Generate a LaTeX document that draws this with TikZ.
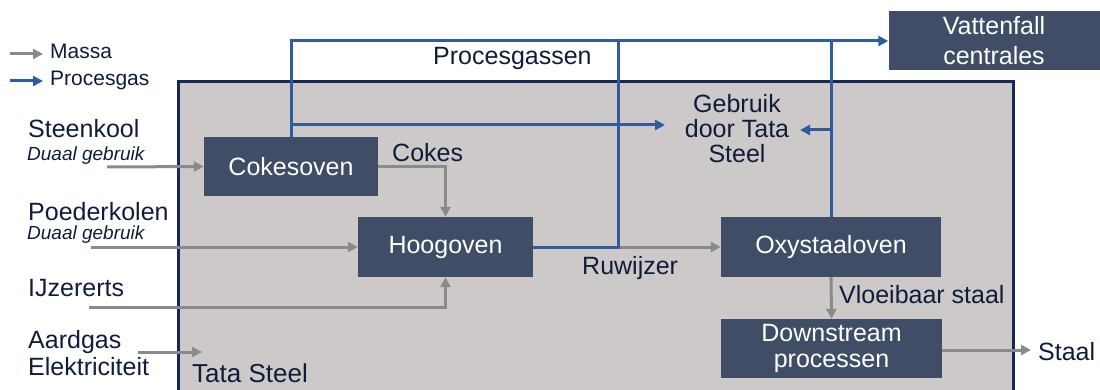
\documentclass[tikz,border=0pt]{standalone}
\usepackage{fontspec}
\setmainfont{Liberation Sans}
\usetikzlibrary{arrows.meta}

\definecolor{boxblue}{HTML}{3F4D66}
\definecolor{tatagray}{HTML}{CDC9C9}
\definecolor{rand}{HTML}{16285A}
\definecolor{gasblue}{HTML}{2E5C9E}
\definecolor{massagray}{HTML}{8A8A8A}
\definecolor{inkt}{HTML}{0F1D3A}

\tikzset{
  box/.style={fill=boxblue, text=white, inner sep=0pt, align=center,
    font=\fontsize{25}{27}\selectfont},
  txt/.style={text=inkt, inner sep=0pt, anchor=base west,
    font=\fontsize{25}{27}\selectfont},
  sub/.style={txt, font=\fontsize{19}{21}\selectfont\itshape},
  massa/.style={massagray, line width=3pt,
    -{Triangle[length=10pt,width=10pt]}},
  gas/.style={gasblue, line width=3pt},
  gaspijl/.style={gas, -{Triangle[length=10pt,width=10pt]}}
}

\begin{document}
\begin{tikzpicture}[x=1pt,y=-1pt]
\useasboundingbox (0,0) rectangle (1100,390);

% Tata Steel terrein
\draw [rand, line width=3pt, fill=tatagray](178,82) rectangle (1013,400);
\node[txt, font=\fontsize{26}{28}\selectfont] (tata) at (192,382) {Tata Steel};

% legenda
\coordinate (lm1) at (10,54);  \coordinate (lm2) at (43,54);
\coordinate (lg1) at (10,81);  \coordinate (lg2) at (43,81);
\draw[massa] (lm1) -- (lm2);
\draw[gaspijl] (lg1) -- (lg2);
\node[txt, font=\fontsize{21}{23}\selectfont] (lmassa) at (50,59) {Massa};
\node[txt, font=\fontsize{21}{23}\selectfont] (lgas) at (50,86) {Procesgas};

% processen
\node[box, minimum width=174pt, minimum height=59pt] (coke) at (291,166.5) {Cokesoven};
\node[box, minimum width=175pt, minimum height=60pt] (hoog) at (445.5,247) {Hoogoven};
\node[box, minimum width=220pt, minimum height=60pt] (oxy) at (831,247) {Oxystaaloven};
\node[box, minimum width=221pt, minimum height=59pt, font=\fontsize{25}{26}\selectfont] (down) at (831.5,348.5) {Downstream\\processen};
\node[box, minimum width=211pt, minimum height=59pt, font=\fontsize{25}{30}\selectfont] (vat) at (994,41) {Vattenfall\\centrales};
\node[text=inkt, inner sep=0pt, align=center, font=\fontsize{25}{25}\selectfont] (gebruik) at (737,129) {Gebruik\\door Tata\\Steel};

% grondstoffen
\node[txt] (steenkool) at (28,138) {Steenkool};
\node[sub] (duaal1) at (27,161) {Duaal gebruik};
\node[txt] (poeder) at (28,220) {Poederkolen};
\node[sub] (duaal2) at (27,240) {Duaal gebruik};
\node[txt] (ijzer) at (28,296) {IJzererts};
\node[txt] (aardgas) at (28,348) {Aardgas};
\node[txt] (elek) at (28,375) {Elektriciteit};

\coordinate (inSteen) at (107,167);
\coordinate (inPoeder) at (91,247);
\coordinate (inIJzer) at (89,307);
\coordinate (inGas) at (138,352);
\coordinate (uitGas) at (202,352);
\coordinate (rw) at (618,247);
\coordinate (staal) at (1031,350);
\coordinate (gin) at (665,125);
\coordinate (guit) at (800,130);

% massastromen
\draw[massa] (inSteen) -- (coke.west);
\draw[massa] (inPoeder) -- (hoog.west);
\draw[massa] (inIJzer) -| (hoog.south);
\draw[massa] (inGas) -- (uitGas);
\draw[massa] (coke.east) -| (hoog.north);
\draw[massa] (rw) -- (oxy.west);
\draw[massa] (oxy.south) -- (down.north);
\draw[massa] (down.east |- staal) -- (staal);

% procesgassen
\draw[gaspijl] (coke.north) |- (vat.west);
\draw[gas] (hoog.east) -- (rw) -- (rw |- vat.west);
\draw[gas] (oxy.north) -- (oxy.north |- vat.west);
\draw[gaspijl] (coke.north |- gin) -- (gin);
\draw[gaspijl] (oxy.north |- guit) -- (guit);

\node[txt] (cokes) at (392,162) {Cokes};
\node[txt] (ruw) at (582,274) {Ruwijzer};
\node[txt] (vloei) at (839,303) {Vloeibaar staal};
\node[txt] (lstaal) at (1038,360) {Staal};
\node[txt] (procgas) at (433,65) {Procesgassen};

\end{tikzpicture}
\end{document}
